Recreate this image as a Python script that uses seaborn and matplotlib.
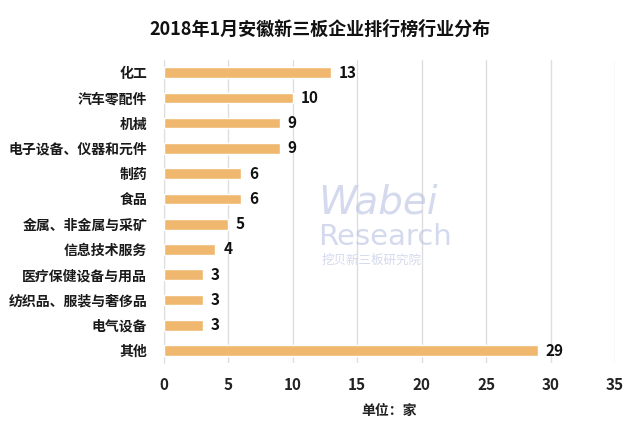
import pandas as pd
import seaborn as sns
import matplotlib.pyplot as plt

categories = ["化工", "汽车零配件", "机械", "电子设备、仪器和元件", "制药", "食品",
              "金属、非金属与采矿", "信息技术服务", "医疗保健设备与用品",
              "纺织品、服装与奢侈品", "电气设备", "其他"]
counts = [13, 10, 9, 9, 6, 6, 5, 4, 3, 3, 3, 29]
xticks = [0, 5, 10, 15, 20, 25, 30, 35]

df = pd.DataFrame({"industry": categories, "count": counts})

sns.set_style("white")
plt.rcParams["font.family"] = ["Noto Sans CJK SC", "DejaVu Sans"]

fig = plt.figure(figsize=(6.4, 4.44), dpi=100)
ax = fig.add_axes([0.256, 0.182, 0.705, 0.683])

sns.barplot(data=df, x="count", y="industry", color="#F0B86E",
            saturation=1, width=0.42, ax=ax, zorder=3)

ax.set_xlim(0, 35)
ax.set_xticks(xticks)
ax.set_xticklabels([str(t) for t in xticks], fontsize=11, fontweight="bold", color="#222222")
ax.tick_params(axis="x", length=0, pad=10)
ax.tick_params(axis="y", length=0, pad=12)
for lbl in ax.get_yticklabels():
    lbl.set_fontsize(10)
    lbl.set_fontweight("bold")
    lbl.set_color("#1a1a1a")

ax.grid(axis="x", color="#dedede", linewidth=1, zorder=0)
for s in ["top", "right", "bottom"]:
    ax.spines[s].set_visible(False)
ax.spines["left"].set_color("#dedede")

for i, v in enumerate(counts):
    ax.text(v + 0.6, i, str(v), va="center", ha="left", fontsize=11,
            fontweight="bold", color="#111111", zorder=4)

ax.set_ylabel("")
ax.set_xlabel("单位：家", fontsize=10, fontweight="bold", color="#222222", labelpad=8)

# watermark
fig.text(0.497, 0.52, "Wabei", fontsize=28, style="italic", color="#b8c0e2", alpha=0.6,
         family="DejaVu Sans", zorder=5)
fig.text(0.497, 0.448, "Research", fontsize=21, color="#b8c0e2", alpha=0.6,
         family="DejaVu Sans", zorder=5)
fig.text(0.503, 0.405, "挖贝新三板研究院", fontsize=9, color="#b8c0e2", alpha=0.6, zorder=5)

fig.suptitle("2018年1月安徽新三板企业排行榜行业分布", fontsize=13, fontweight="bold",
             color="#111111", y=0.955)

fig.savefig("out.png", dpi=100)
